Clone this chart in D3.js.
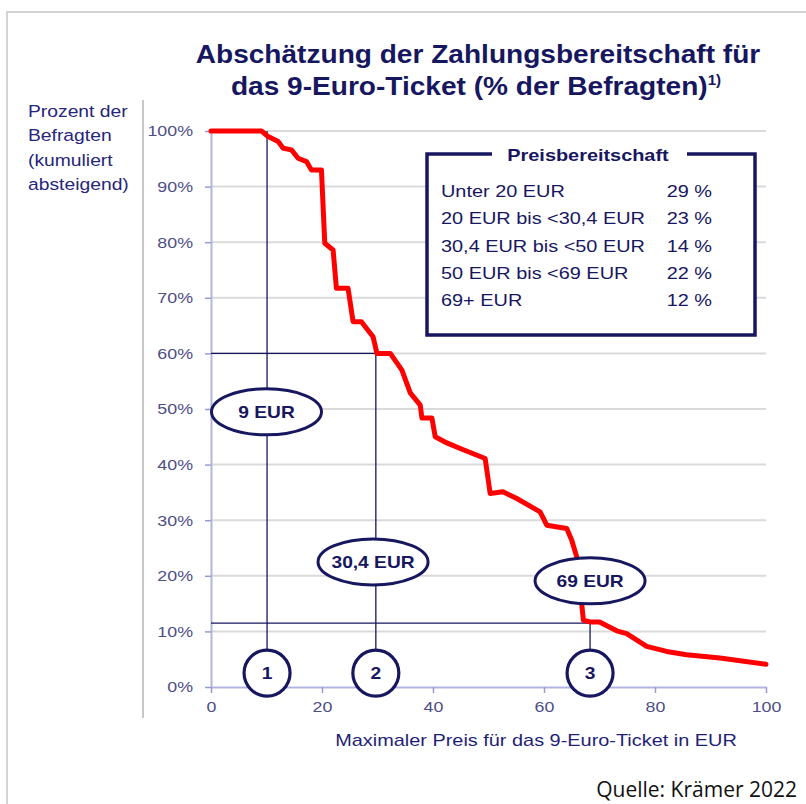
<!DOCTYPE html>
<html>
<head>
<meta charset="utf-8">
<script src="https://cdn.jsdelivr.net/npm/d3@7"></script>
<style>
  body { margin: 0; background: #fff; }
  svg { display: block; font-family: "Liberation Sans", Arial, sans-serif; }
</style>
</head>
<body>
<div id="main"></div>
<script>
// Kumulierte Zahlungsbereitschaft (Preis in EUR, Anteil in %)
var preis = [0, 9.1, 10.3, 12.1, 13, 14.5, 15.7, 17.2, 18.1, 19.9, 20.5, 22, 22.6, 24.7, 25.6, 27.1, 29.2, 29.9,
             32.3, 34.4, 35.9, 37.7, 38, 39.8, 40.4, 42.5, 44.9, 49.4, 50.3, 52.6, 55.1, 59.3, 60.5, 64.1, 65, 65.9,
             67.1, 68.3, 70, 73.1, 74.9, 78.5, 82.1, 85.7, 91.7, 100];
var anteil = [100, 100, 99, 98.1, 96.9, 96.6, 95.1, 94.5, 93, 93, 79.8, 78.6, 71.7, 71.7, 65.7, 65.7, 63, 60,
              60, 57, 52.9, 50.7, 48.4, 48.4, 45, 43.9, 42.9, 41.1, 34.8, 35.1, 33.9, 31.5, 29.1, 28.5, 26.4, 23.4,
              12, 11.7, 11.7, 10.1, 9.6, 7.3, 6.4, 5.8, 5.2, 4.1];

var yTicks = [0, 10, 20, 30, 40, 50, 60, 70, 80, 90, 100];
var xTicks = [0, 20, 40, 60, 80, 100];

// Legende
var legendLabels = ["Unter 20 EUR", "20 EUR bis <30,4 EUR", "30,4 EUR bis <50 EUR", "50 EUR bis <69 EUR", "69+ EUR"];
var legendValues = ["29 %", "23 %", "14 %", "22 %", "12 %"];

// Markierungen: Preis, Anteil an der Stelle, Nummer
var markPreis = [10.1, 29.7, 68.3];
var markAnteil = [100, 60, 11.5];
var markNummer = ["1", "2", "3"];

// Ellipsen-Beschriftungen
var ovalText = ["9 EUR", "30,4 EUR", "69 EUR"];
var ovalPreis = [10, 29.2, 68.3];
var ovalAnteil = [49.5, 22.5, 19.1];

var navy = "#17175f";
var tickColor = "#4e4e86";
var W = 806, H = 804;

var svg = d3.select("#main").append("svg")
    .attr("width", W)
    .attr("height", H);

// horizontal stretch of text around its anchor point
function stretch(sel, sx) {
    sel.attr("transform", function() {
        var t = d3.select(this);
        var x = +t.attr("x") || 0, y = +t.attr("y") || 0;
        return "translate(" + x + "," + y + ") scale(" + sx + ",1) translate(" + (-x) + "," + (-y) + ")";
    });
}

// frame
svg.append("path")
    .attr("d", "M7,804 L7,12 L806,12")
    .attr("fill", "none")
    .attr("stroke", "#d4d4d4")
    .attr("stroke-width", 2);
svg.append("line")
    .attr("x1", 143).attr("x2", 143).attr("y1", 100).attr("y2", 718)
    .attr("stroke", "#c8c8c8").attr("stroke-width", 2);

// title
var title = svg.append("text")
    .attr("x", 478).attr("y", 63)
    .attr("text-anchor", "middle")
    .attr("font-size", 26).attr("font-weight", "bold")
    .attr("fill", navy)
    .text("Abschätzung der Zahlungsbereitschaft für");
stretch(title, 1.08);
var title2 = svg.append("text")
    .attr("x", 476).attr("y", 95)
    .attr("text-anchor", "middle")
    .attr("font-size", 26).attr("font-weight", "bold")
    .attr("fill", navy);
title2.append("tspan").text("das 9-Euro-Ticket (% der Befragten)");
title2.append("tspan").attr("font-size", 14).attr("dy", -10).text("1)");
stretch(title2, 1.08);

// y label
var yLab = ["Prozent der", "Befragten", "(kumuliert", "absteigend)"];
svg.append("g").selectAll("text")
    .data(yLab)
    .enter()
    .append("text")
    .attr("x", 28)
    .attr("y", function(d, i) { return 117 + i * 24.5; })
    .attr("font-size", 16.5)
    .attr("fill", "#26267a")
    .text(function(d) { return d; })
    .call(stretch, 1.17);

// scales
var x = d3.scaleLinear().domain([0, 100]).range([211, 766]);
var y = d3.scaleLinear().domain([0, 100]).range([687, 131]);

// gridlines
svg.append("g").selectAll("line")
    .data(yTicks.slice(1))
    .enter()
    .append("line")
    .attr("x1", x(0)).attr("x2", x(100))
    .attr("y1", function(d) { return y(d); })
    .attr("y2", function(d) { return y(d); })
    .attr("stroke", "#dadada")
    .attr("stroke-width", 2);

// axes
var yAxis = svg.append("g")
    .attr("transform", "translate(" + x(0) + ",0)")
    .call(d3.axisLeft(y).tickValues(yTicks).tickFormat(function(d) { return d + "%"; }).tickSize(6).tickPadding(12).tickSizeOuter(0));
var xAxis = svg.append("g")
    .attr("transform", "translate(0," + y(0) + ")")
    .call(d3.axisBottom(x).tickValues(xTicks).tickSize(6).tickPadding(8).tickSizeOuter(0));
[yAxis, xAxis].forEach(function(a) {
    a.select(".domain").attr("stroke", "#b4b4e2").attr("stroke-width", 2);
    a.selectAll(".tick line").attr("stroke", "#9a9ad0").attr("stroke-width", 1.5);
    a.selectAll(".tick text")
        .attr("fill", tickColor)
        .attr("font-size", 15.5)
        .attr("font-family", "Liberation Sans, Arial, sans-serif");
});
yAxis.selectAll(".tick text").call(stretch, 1.15);
xAxis.selectAll(".tick text").call(stretch, 1.15);

svg.append("text")
    .attr("x", 536).attr("y", 746)
    .attr("text-anchor", "middle")
    .attr("font-size", 17)
    .attr("fill", "#1f1f78")
    .text("Maximaler Preis für das 9-Euro-Ticket in EUR")
    .call(stretch, 1.17);

// reference lines
var ref = svg.append("g").attr("stroke", navy).attr("stroke-width", 1.3);
markPreis.forEach(function(p, i) {
    ref.append("line")
        .attr("x1", x(p)).attr("x2", x(p))
        .attr("y1", y(markAnteil[i])).attr("y2", y(2.5))
    if (i > 0) {
        ref.append("line")
            .attr("x1", x(0)).attr("x2", x(p))
            .attr("y1", y(markAnteil[i])).attr("y2", y(markAnteil[i]));
    }
});

// curve
var pts = preis.map(function(p, i) { return [p, anteil[i]]; });
svg.append("path")
    .datum(pts)
    .attr("fill", "none")
    .attr("stroke", "#ff0000")
    .attr("stroke-width", 5)
    .attr("stroke-linejoin", "round")
    .attr("stroke-linecap", "round")
    .attr("d", d3.line()
        .x(function(d) { return x(d[0]); })
        .y(function(d) { return y(d[1]); }));

// ovals
var ov = svg.append("g").selectAll("g")
    .data(ovalText)
    .enter()
    .append("g");
ov.append("ellipse")
    .attr("cx", function(d, i) { return x(ovalPreis[i]); })
    .attr("cy", function(d, i) { return y(ovalAnteil[i]); })
    .attr("rx", 55).attr("ry", 23)
    .attr("fill", "#fff")
    .attr("stroke", navy)
    .attr("stroke-width", 3);
ov.append("text")
    .attr("x", function(d, i) { return x(ovalPreis[i]); })
    .attr("y", function(d, i) { return y(ovalAnteil[i]) + 6; })
    .attr("text-anchor", "middle")
    .attr("font-size", 16).attr("font-weight", "bold")
    .attr("fill", navy)
    .text(function(d) { return d; })
    .call(stretch, 1.2);

// numbered circles
var nc = svg.append("g").selectAll("g")
    .data(markNummer)
    .enter()
    .append("g");
nc.append("circle")
    .attr("cx", function(d, i) { return x(markPreis[i]); })
    .attr("cy", y(2.5))
    .attr("r", 23)
    .attr("fill", "#fff")
    .attr("stroke", navy)
    .attr("stroke-width", 3.2);
nc.append("text")
    .attr("x", function(d, i) { return x(markPreis[i]); })
    .attr("y", y(2.5) + 6)
    .attr("text-anchor", "middle")
    .attr("font-size", 16).attr("font-weight", "bold")
    .attr("fill", navy)
    .text(function(d) { return d; })
    .call(stretch, 1.2);

// legend box
var lg = svg.append("g");
lg.append("rect")
    .attr("x", 427).attr("y", 154)
    .attr("width", 328).attr("height", 181)
    .attr("fill", "#fff")
    .attr("stroke", navy)
    .attr("stroke-width", 3.5);
lg.append("rect")
    .attr("x", 492).attr("y", 145)
    .attr("width", 195).attr("height", 18)
    .attr("fill", "#fff");
lg.append("text")
    .attr("x", 588).attr("y", 161)
    .attr("text-anchor", "middle")
    .attr("font-size", 17).attr("font-weight", "bold")
    .attr("fill", navy)
    .text("Preisbereitschaft")
    .call(stretch, 1.17);
lg.selectAll(".lab")
    .data(legendLabels)
    .enter()
    .append("text")
    .attr("x", 441)
    .attr("y", function(d, i) { return 197 + i * 27.3; })
    .attr("font-size", 17)
    .attr("fill", navy)
    .text(function(d) { return d; })
    .call(stretch, 1.17);
lg.selectAll(".val")
    .data(legendValues)
    .enter()
    .append("text")
    .attr("x", 712)
    .attr("y", function(d, i) { return 197 + i * 27.3; })
    .attr("text-anchor", "end")
    .attr("font-size", 17)
    .attr("fill", navy)
    .text(function(d) { return d; })
    .call(stretch, 1.17);

// source
svg.append("text")
    .attr("x", 797).attr("y", 797)
    .attr("text-anchor", "end")
    .attr("font-family", "Open Sans, Noto Sans, sans-serif")
    .attr("font-size", 21)
    .attr("fill", "#111")
    .text("Quelle: Krämer 2022");
</script>
</body>
</html>
